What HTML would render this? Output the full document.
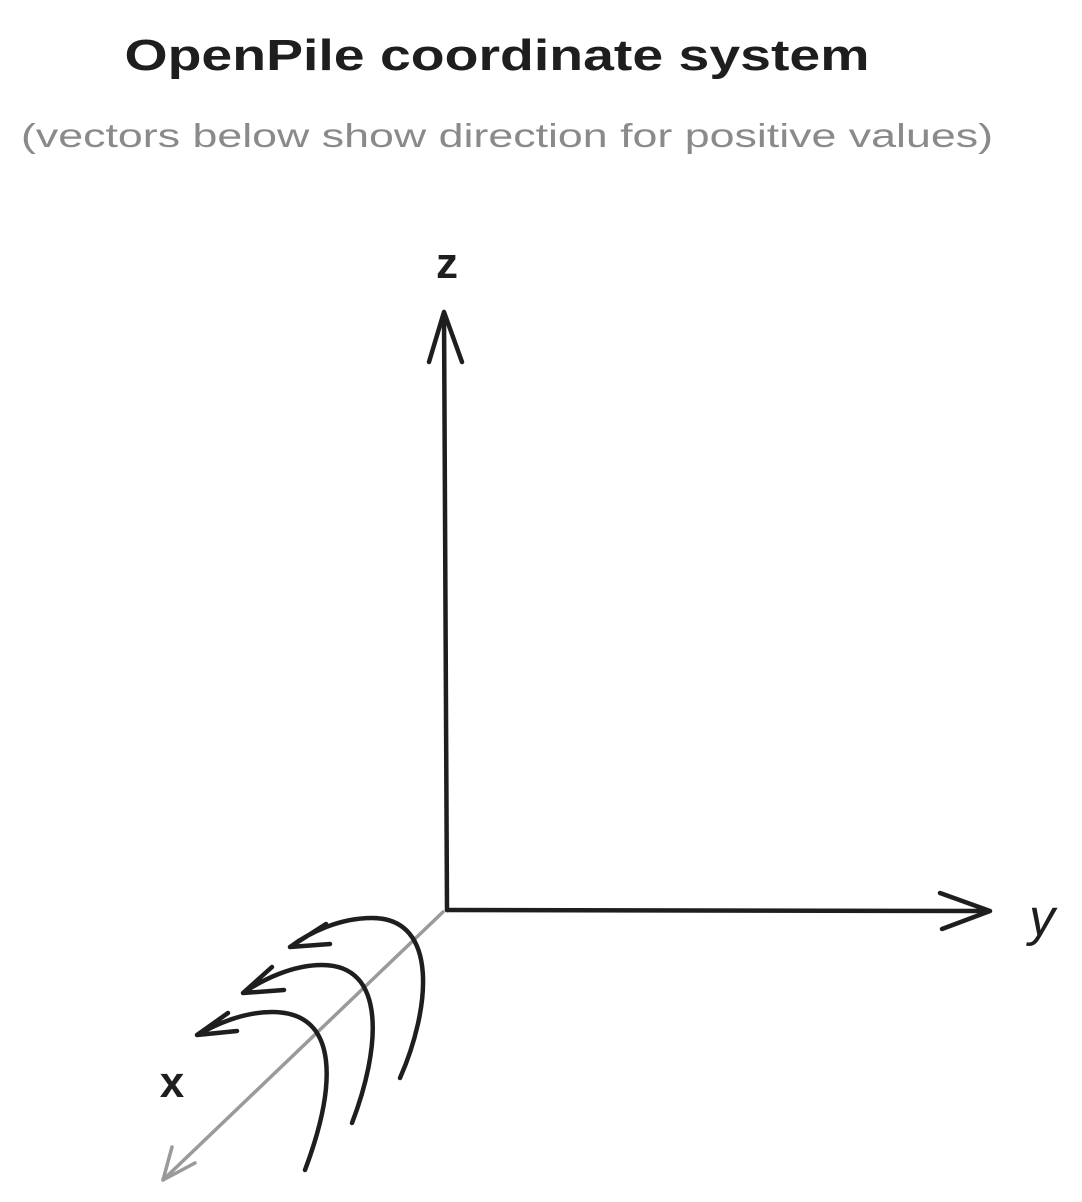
<!DOCTYPE html>
<html><head><meta charset="utf-8"><style>
html,body{margin:0;padding:0;background:#fff;}
svg{display:block;}
text{font-family:"Liberation Sans",sans-serif;}
</style></head><body>
<svg width="1082" height="1202" viewBox="0 0 1082 1202">
<text x="497" y="70" text-anchor="middle" font-size="44" font-weight="600" fill="#1e1e1e" textLength="745" lengthAdjust="spacingAndGlyphs">OpenPile coordinate system</text>
<text x="507" y="147" text-anchor="middle" font-size="33" fill="#8a8a8a" textLength="972" lengthAdjust="spacingAndGlyphs">(vectors below show direction for positive values)</text>

<g stroke="#9a9a9a" stroke-width="3.5" fill="none" stroke-linecap="round">
<path d="M443 912 L163 1180"/>
<path d="M163 1180 L172 1147 M163 1180 L195 1163"/>
</g>

<g stroke="#1e1e1e" stroke-width="4.5" fill="none" stroke-linecap="round" stroke-linejoin="round">
<path d="M447 910 L444 312 M444 312 L429 362 M444 312 L462 362"/>
<path d="M447 910 L990 911 M990 911 L940 893 M990 911 L942 929"/>
<path d="M400 1078 C430 1010 440 918 372 918 C340 918 310 932 290 947 M290 947 L326 924 M290 947 L330 944"/>
<path d="M352 1123 C380 1050 388 965 322 965 C292 965 262 980 243 993 M243 993 L272 967 M243 993 L284 990"/>
<path d="M305 1170 C335 1090 342 1012 272 1012 C242 1012 215 1025 197 1035 M197 1035 L228 1013 M197 1035 L237 1031"/>
</g>

<text x="447" y="278" text-anchor="middle" font-size="44" font-weight="bold" fill="#1e1e1e">z</text>
<text x="1042" y="935" text-anchor="middle" font-size="52" font-style="italic" fill="#1e1e1e">y</text>
<text x="172" y="1097" text-anchor="middle" font-size="44" font-weight="bold" fill="#1e1e1e">x</text>
</svg>
</body></html>
